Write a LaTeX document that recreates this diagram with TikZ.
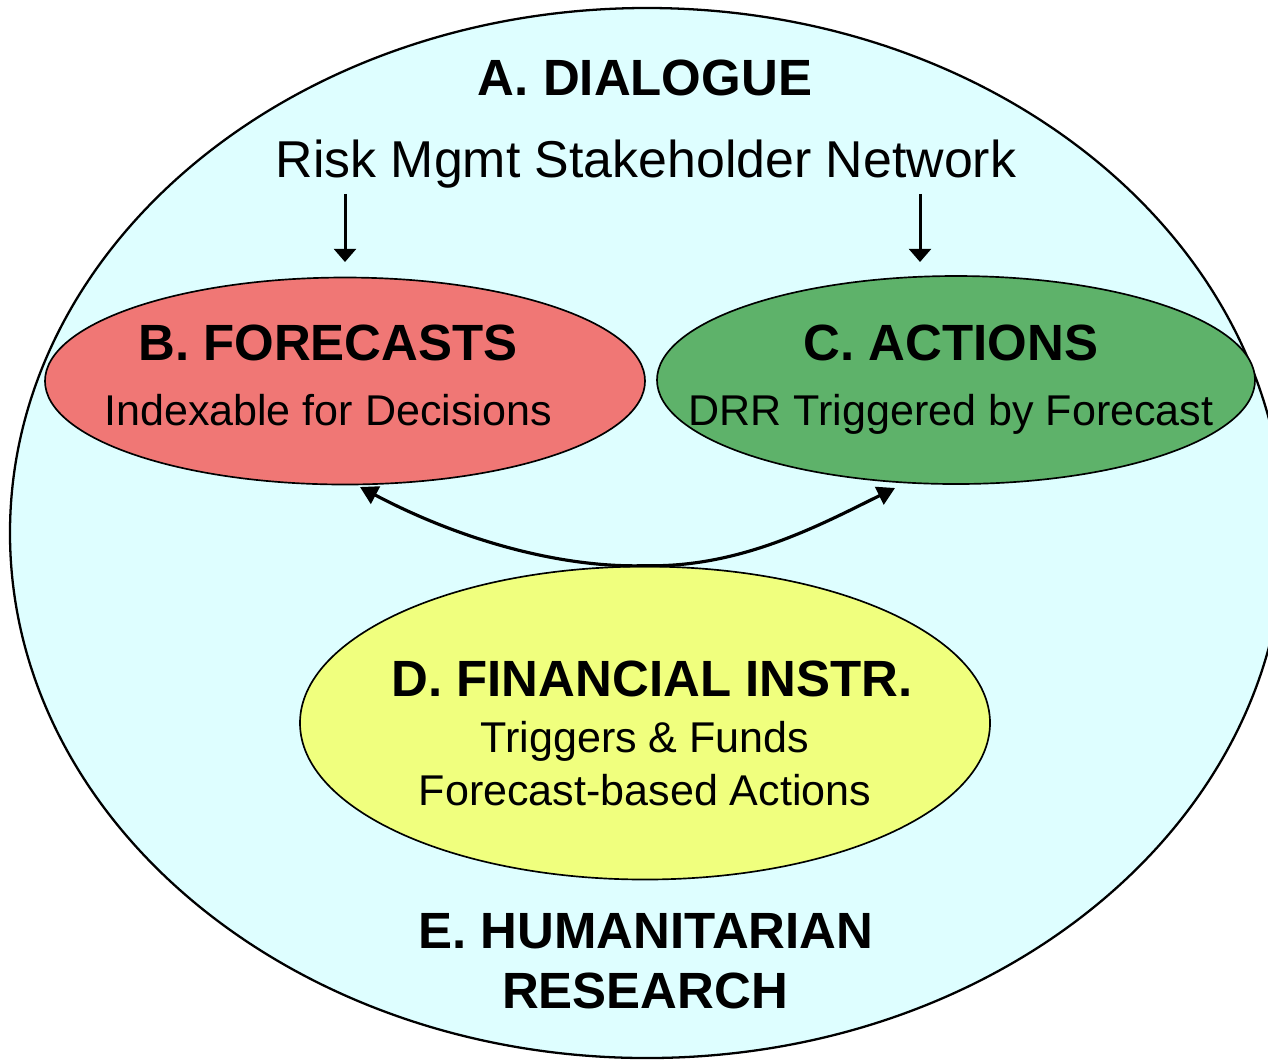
\documentclass[tikz,border=0pt]{standalone}
\usepackage{fontspec}
\setmainfont{Liberation Sans}
\usepackage{tikz}
\usetikzlibrary{shapes.geometric, arrows.meta, positioning}
\definecolor{HumCyan}{RGB}{222, 254, 255}
\definecolor{FcstRed}{RGB}{240, 119, 117}
\definecolor{ActGreen}{RGB}{94, 178, 106}
\definecolor{FinYellow}{RGB}{240, 255, 126}

\tikzset{
  bubble/.style={ellipse, draw=black, line width=0.95pt, inner sep=0pt},
  headtxt/.style={anchor=base, font=\fontsize{29}{34}\selectfont\bfseries},
  subtxt/.style={anchor=base, font=\fontsize{24.5}{29}\selectfont},
  feed/.style={line width=1.7pt, -{Triangle[length=7.5pt, width=12.5pt]}},
  link/.style={line width=1.8pt, {Triangle[length=10pt, width=11pt]}-{Triangle[length=10pt, width=11pt]}},
}

\begin{document}
\begin{tikzpicture}[x=0.2mm, y=-0.2mm]
  \useasboundingbox (0,0) rectangle (1268,1060);

  % outer research frame and the three inner fields
  \node[bubble, fill=HumCyan, line width=1.3pt, minimum width=254.8mm, minimum height=210mm] (hum) at (647,533) {};
  \node[bubble, fill=FcstRed, minimum width=120mm, minimum height=41.4mm] (fcst) at (345,381) {};
  \node[bubble, fill=ActGreen, minimum width=119.6mm, minimum height=41.6mm] (act) at (956,380) {};
  \node[bubble, fill=FinYellow, minimum width=138mm, minimum height=62.6mm] (fin) at (645,723) {};

  % labels
  \node[headtxt] (dlg) at (645,95) {A. DIALOGUE};
  \node[anchor=base, font=\fontsize{29.5}{34}\selectfont] (net) at (646,177) {Risk Mgmt Stakeholder Network};
  \node[headtxt] (fcst-t) at (328,360) {B. FORECASTS};
  \node[subtxt] (fcst-s) at (328,425) {Indexable for Decisions};
  \node[headtxt] (act-t) at (951,360) {C. ACTIONS};
  \node[subtxt] (act-s) at (951,425) {DRR Triggered by Forecast};
  \node[headtxt] (fin-t) at (652,696) {D. FINANCIAL INSTR.};
  \node[subtxt] (fin-s1) at (645,752) {Triggers \& Funds};
  \node[subtxt] (fin-s2) at (645,805) {Forecast-based Actions};
  \node[headtxt] (hum-t1) at (646,948) {E. HUMANITARIAN};
  \node[headtxt] (hum-t2) at (645,1008) {RESEARCH};

  % network feeds forecasts and actions
  \coordinate (fcst-in) at (345,262);
  \coordinate (act-in) at (920,262);
  \draw[feed] (net.south -| fcst-in) -- (fcst-in);
  \draw[feed] (net.south -| act-in) -- (act-in);

  % financing links both ways
  \coordinate (fcst-out) at (360,487);
  \coordinate (act-out) at (895,488);
  \draw[link] (fcst-out) .. controls (470,545) and (570,568) .. (fin.north)
    .. controls (740,568) and (820,525) .. (act-out);
\end{tikzpicture}
\end{document}
